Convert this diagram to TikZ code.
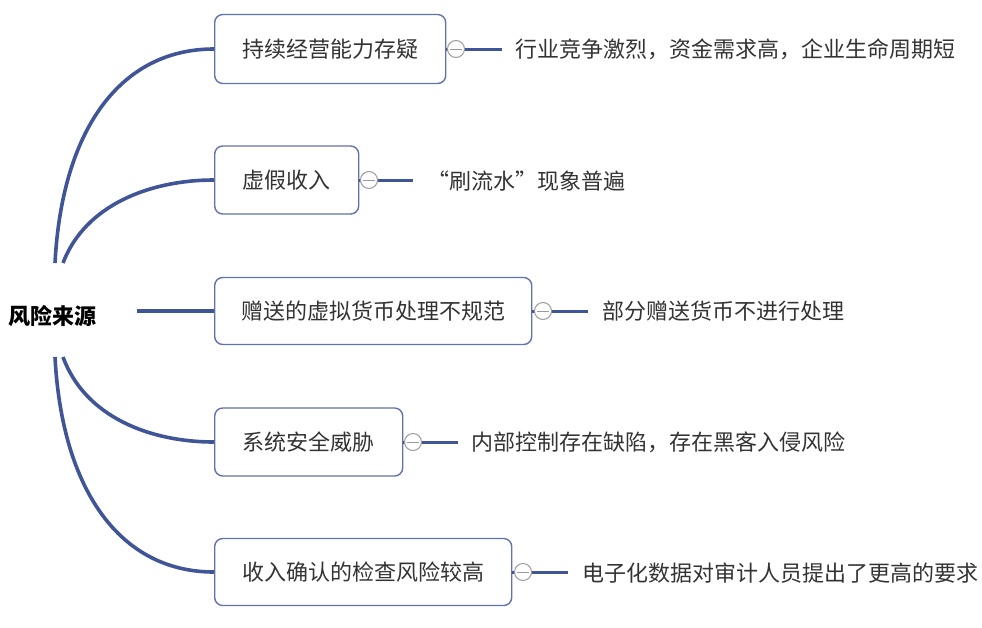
\documentclass[tikz,border=0pt]{standalone}
\usepackage{fontspec}
\setmainfont{Noto Sans CJK SC}
\definecolor{branch}{HTML}{3F5597}
\definecolor{boxline}{HTML}{6272AA}
\definecolor{txt}{HTML}{333333}
\definecolor{knob}{HTML}{9A9A9A}
\tikzset{
  topic/.style={draw=boxline, line width=1.4pt, rounded corners=8pt, fill=white,
    anchor=west, inner sep=0pt, text=txt, font=\fontsize{22pt}{24pt}\selectfont},
  leaf/.style={anchor=west, inner sep=0pt, text=txt, font=\fontsize{22pt}{24pt}\selectfont},
  knobnode/.style={circle, draw=knob, line width=1pt, fill=white, minimum size=17pt, inner sep=0pt,
    path picture={\draw[knob, line width=1pt] ([xshift=-6pt]path picture bounding box.center) -- ([xshift=6pt]path picture bounding box.center);}},
  curve/.style={draw=branch, line width=3.6pt},
  leafline/.style={draw=branch, line width=3pt},
}
\begin{document}
\begin{tikzpicture}[x=1pt,y=-1pt]
\useasboundingbox (0,0) rectangle (982,627);
% root
\node[anchor=west, inner sep=0pt, text=black, font=\fontsize{22pt}{24pt}\selectfont\bfseries] (root) at (8,316) {风险来源};
\coordinate (r1) at (55,263);
\coordinate (r2) at (63,263);
\coordinate (r3) at (137,311);
\coordinate (r4) at (63,357);
\coordinate (r5) at (55,357);
% topics
\node[topic, minimum width=231pt, minimum height=69pt] (b1) at (214,49) {持续经营能力存疑};
\node[topic, minimum width=144pt, minimum height=68pt] (b2) at (214,180) {虚假收入};
\node[topic, minimum width=317pt, minimum height=67pt] (b3) at (214,311) {赠送的虚拟货币处理不规范};
\node[topic, minimum width=188pt, minimum height=68pt] (b4) at (214,442) {系统安全威胁};
\node[topic, minimum width=297pt, minimum height=67pt] (b5) at (214,572) {收入确认的检查风险较高};
% branches
\draw[curve] (r1) .. controls (62,130) and (120,49) .. (b1.west);
\draw[curve] (r2) .. controls (85,205) and (150,180) .. (b2.west);
\draw[curve] (r3) -- (b3.west);
\draw[curve] (r4) .. controls (85,417) and (150,442) .. (b4.west);
\draw[curve] (r5) .. controls (62,490) and (120,572) .. (b5.west);
% leaves
\node[leaf] (t1) at (515,49) {行业竞争激烈，资金需求高，企业生命周期短};
\node[leaf] (t2) at (427,181) {“刷流水”现象普遍};
\node[leaf] (t3) at (602,311) {部分赠送货币不进行处理};
\node[leaf] (t4) at (471,442) {内部控制存在缺陷，存在黑客入侵风险};
\node[leaf] (t5) at (582,573) {电子化数据对审计人员提出了更高的要求};
\coordinate (e1) at (502,49);
\coordinate (e2) at (413,180);
\coordinate (e3) at (588,311);
\coordinate (e4) at (458,442);
\coordinate (e5) at (568,572);
\foreach \i in {1,...,5}{
  \draw[leafline] (b\i.east) -- (e\i);
}
\node[knobnode] (c1) at (456,49) {};
\node[knobnode] (c2) at (369,180) {};
\node[knobnode] (c3) at (543,311) {};
\node[knobnode] (c4) at (413,442) {};
\node[knobnode] (c5) at (523,572) {};
\end{tikzpicture}
\end{document}
